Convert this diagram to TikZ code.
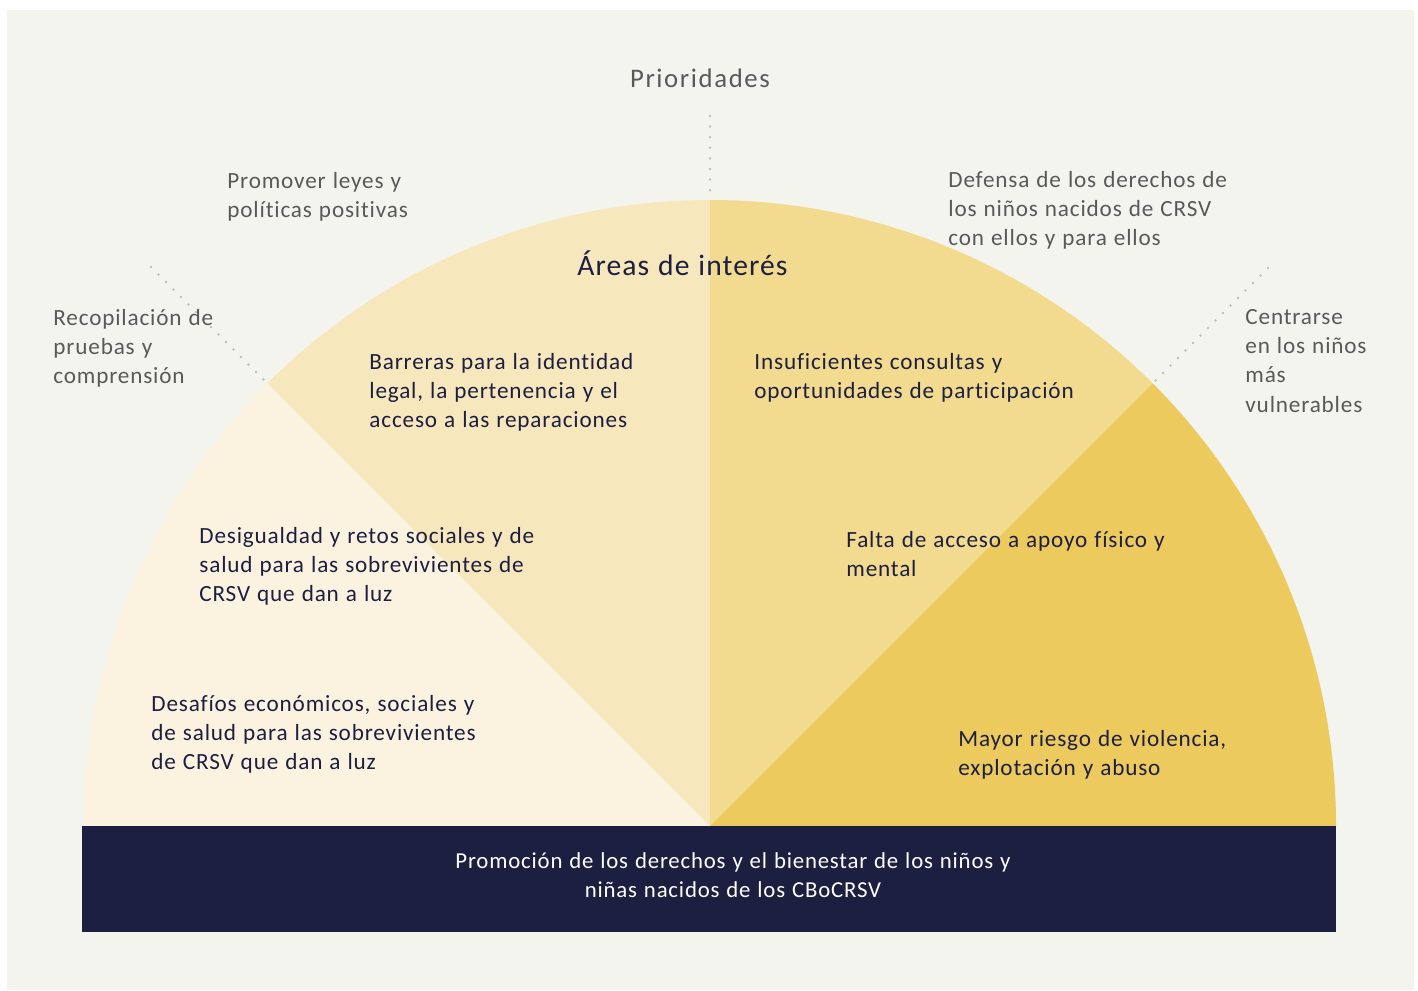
\documentclass[tikz,border=0pt]{standalone}
\usepackage{fontspec}
\setmainfont{Carlito}[Ligatures=NoCommon,LetterSpace=3.6,WordSpace=1.15]
\newfontfamily\titlefont{Carlito}[Ligatures=NoCommon,LetterSpace=6]
\definecolor{bgc}{HTML}{F4F4EF}
\definecolor{wA}{HTML}{FBF3E0}
\definecolor{wB}{HTML}{F7E7BD}
\definecolor{wC}{HTML}{F2DA8E}
\definecolor{wD}{HTML}{ECCA5E}
\definecolor{navy}{HTML}{1D1F41}
\definecolor{txtgray}{HTML}{595959}
\definecolor{dotgray}{HTML}{BFBFBF}
\newcommand{\mlL}[1]{\begin{tabular}[t]{@{}l@{}}#1\end{tabular}}
\newcommand{\mlC}[1]{\begin{tabular}[t]{@{}c@{}}#1\end{tabular}}
\tikzset{
  outertxt/.style={text=txtgray, font=\fontsize{11.6}{14.7}\selectfont, inner sep=0pt, anchor=base west},
  innertxt/.style={text=navy, font=\fontsize{11.6}{14.6}\selectfont, inner sep=0pt, anchor=base west},
  dotline/.style={draw=dotgray, line width=1.4pt, line cap=round, dash pattern=on 0pt off 5.3pt},
}
\begin{document}
\begin{tikzpicture}[x=0.5pt,y=-0.5pt]
\useasboundingbox (0,0) rectangle (1418,990);
\fill[white] (0,0) rectangle (1418,990);
\fill[bgc] (7,10) rectangle (1414,990);
\coordinate (O) at (710,826);
% wedges
\fill[wA] (O) -- ++(-180:626) arc[start angle=-180,end angle=-135,radius=626] -- cycle;
\fill[wB] (O) -- ++(-135:626) arc[start angle=-135,end angle=-90,radius=626] -- cycle;
\fill[wC] (O) -- ++(-90:626) arc[start angle=-90,end angle=-45,radius=626] -- cycle;
\fill[wD] (O) -- ++(-45:626) arc[start angle=-45,end angle=0,radius=626] -- cycle;
% dotted leaders
\coordinate (topA) at (710,116);
\coordinate (topB) at (710,200);
\coordinate (lA) at (151,267);
\coordinate (lB) at (267,383);
\coordinate (rA) at (1268,268);
\coordinate (rB) at (1153,383);
\draw[dotline] (topA) -- (topB);
\draw[dotline] (lA) -- (lB);
\draw[dotline] (rA) -- (rB);
% bottom bar
\fill[navy] (82,826) rectangle (1336,932);
\node (bar) [text=white, font=\fontsize{11.4}{14.6}\selectfont, inner sep=0pt, anchor=base] at (733,868)
  {\mlC{Promoción de los derechos y el bienestar de los niños y\\ niñas nacidos de los CBoCRSV}};
% titles
\node (prio) [text=txtgray, font=\titlefont\fontsize{13.4}{16}\selectfont, inner sep=0pt, anchor=base] at (700,88) {Prioridades};
\node (areas) [text=navy, font=\fontsize{14.8}{17}\selectfont, inner sep=0pt, anchor=base west] at (577,275) {Áreas de interés};
% outer labels
\node (p1) [outertxt] at (53,325) {\mlL{Recopilación de\\ pruebas y\\ comprensión}};
\node (p2) [outertxt] at (227,188) {\mlL{Promover leyes y\\ políticas positivas}};
\node (p3) [outertxt] at (948,187) {\mlL{Defensa de los derechos de\\ los niños nacidos de CRSV\\ con ellos y para ellos}};
\node (p4) [outertxt] at (1245,324) {\mlL{Centrarse\\ en los niños\\ más\\ vulnerables}};
% inner labels
\node (a1) [innertxt] at (369,369) {\mlL{Barreras para la identidad\\ legal, la pertenencia y el\\ acceso a las reparaciones}};
\node (a2) [innertxt] at (199,543) {\mlL{Desigualdad y retos sociales y de\\ salud para las sobrevivientes de\\ CRSV que dan a luz}};
\node (a3) [innertxt] at (151,711) {\mlL{Desafíos económicos, sociales y\\ de salud para las sobrevivientes\\ de CRSV que dan a luz}};
\node (a4) [innertxt] at (754,369) {\mlL{Insuficientes consultas y\\ oportunidades de participación}};
\node (a5) [innertxt] at (846,547) {\mlL{Falta de acceso a apoyo físico y\\ mental}};
\node (a6) [innertxt] at (958,746) {\mlL{Mayor riesgo de violencia,\\ explotación y abuso}};
\end{tikzpicture}
\end{document}
